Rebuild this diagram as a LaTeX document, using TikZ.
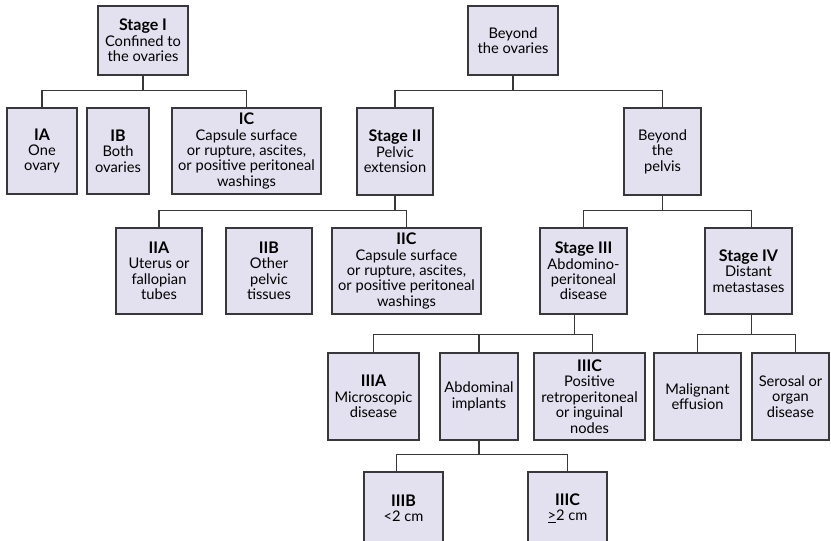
\documentclass[tikz,border=0pt]{standalone}
\usepackage{fontspec}
\setmainfont{Lato}
\definecolor{boxfill}{RGB}{227,224,239}
\definecolor{boxline}{RGB}{55,55,60}
\newcommand{\stagename}[1]{{\fontsize{12}{11.6}\selectfont\bfseries #1}}

\begin{document}
\begin{tikzpicture}[x=0.75pt,y=0.75pt,
      stagebox/.style 2 args={draw=boxline,fill=boxfill,line width=1.1pt,inner sep=0pt,
        minimum width=#1*0.75pt,minimum height=#2*0.75pt,align=center,
        font=\fontsize{11}{11.6}\selectfont},
      link/.style={draw=boxline,line width=0.8pt}]
      \clip (0,0) rectangle (831,540);

      \node[stagebox={90}{69}] (stageI) at (143,499.5) {\stagename{Stage I}\\Confined to\\the ovaries};
      \node[stagebox={90}{69}] (ovaries) at (513,499.5) {Beyond\\the ovaries};

      \node[stagebox={70}{86}] (IA) at (42,389) {\stagename{IA}\\One\\ovary};
      \node[stagebox={62}{86}] (IB) at (118,389) {\stagename{IB}\\Both\\ovaries};
      \node[stagebox={149}{86}] (IC) at (246.5,389) {\stagename{IC}\\Capsule surface\\or rupture, ascites,\\or positive peritoneal\\washings};
      \node[stagebox={76}{87}] (stageII) at (395,388.5) {\stagename{Stage II}\\Pelvic\\extension};
      \node[stagebox={77}{87}] (pelvis) at (662.5,388.5) {Beyond\\the\\pelvis};

      \node[stagebox={86}{86}] (IIA) at (159,269) {\stagename{IIA}\\Uterus or\\fallopian\\tubes};
      \node[stagebox={86}{86}] (IIB) at (269,269) {\stagename{IIB}\\Other\\pelvic\\tissues};
      \node[stagebox={149}{86}] (IIC) at (406.5,269) {\stagename{IIC}\\Capsule surface\\or rupture, ascites,\\or positive peritoneal\\washings};
      \node[stagebox={87}{86}] (stageIII) at (583.5,269) {\stagename{Stage III}\\Abdomino-\\peritoneal\\disease};
      \node[stagebox={87}{86}] (stageIV) at (748.5,269) {\stagename{Stage IV}\\Distant\\metastases};

      \node[stagebox={91}{87}] (IIIA) at (373.5,143.5) {\stagename{IIIA}\\Microscopic\\disease};
      \node[stagebox={78}{87}] (implants) at (479,143.5) {Abdominal\\implants};
      \node[stagebox={111}{87}] (IIIC) at (589.5,143.5) {\stagename{IIIC}\\Positive\\retroperitoneal\\or inguinal\\nodes};
      \node[stagebox={87}{87}] (effusion) at (697.5,143.5) {Malignant\\effusion};
      \node[stagebox={77}{87}] (serosal) at (790.5,143.5) {Serosal or\\organ\\disease};

      \node[stagebox={79}{73}] (IIIB) at (403.5,31.5) {\stagename{IIIB}\\{<}2 cm};
      \node[stagebox={79}{73}] (IIICb) at (567.5,31.5) {\stagename{IIIC}\\\underline{>}2 cm};

      \draw[link] (stageI.south) -- ++(0,-15) -| (IA.north);
      \draw[link] (stageI.south) -- ++(0,-15) -| (IC.north);
      \draw[link] (ovaries.south) -- ++(0,-15) -| (stageII.north);
      \draw[link] (ovaries.south) -- ++(0,-15) -| (pelvis.north);

      \draw[link] (stageII.south) -- ++(0,-15) -| (IIA.north);
      \draw[link] (stageII.south) -- ++(0,-15) -| (IIC.north);
      \draw[link] (pelvis.south) -- ++(0,-15) -| (stageIII.north);
      \draw[link] (pelvis.south) -- ++(0,-15) -| ([xshift=2pt]stageIV.north);

      \draw[link] ([xshift=-7pt]stageIII.south) -- ++(0,-20) -| (IIIA.north);
      \draw[link] ([xshift=-7pt]stageIII.south) -- ++(0,-20) -| (implants.north);
      \draw[link] ([xshift=-7pt]stageIII.south) -- ++(0,-20) -| ([xshift=2pt]IIIC.north);
      \draw[link] ([xshift=2pt]stageIV.south) -- ++(0,-20) -| (effusion.north);
      \draw[link] ([xshift=2pt]stageIV.south) -- ++(0,-20) -| ([xshift=3.5pt]serosal.north);

      \draw[link] (implants.south) -- ++(0,-14) -| ([xshift=-5pt]IIIB.north);
      \draw[link] (implants.south) -- ++(0,-14) -| (IIICb.north);
\end{tikzpicture}
\end{document}
